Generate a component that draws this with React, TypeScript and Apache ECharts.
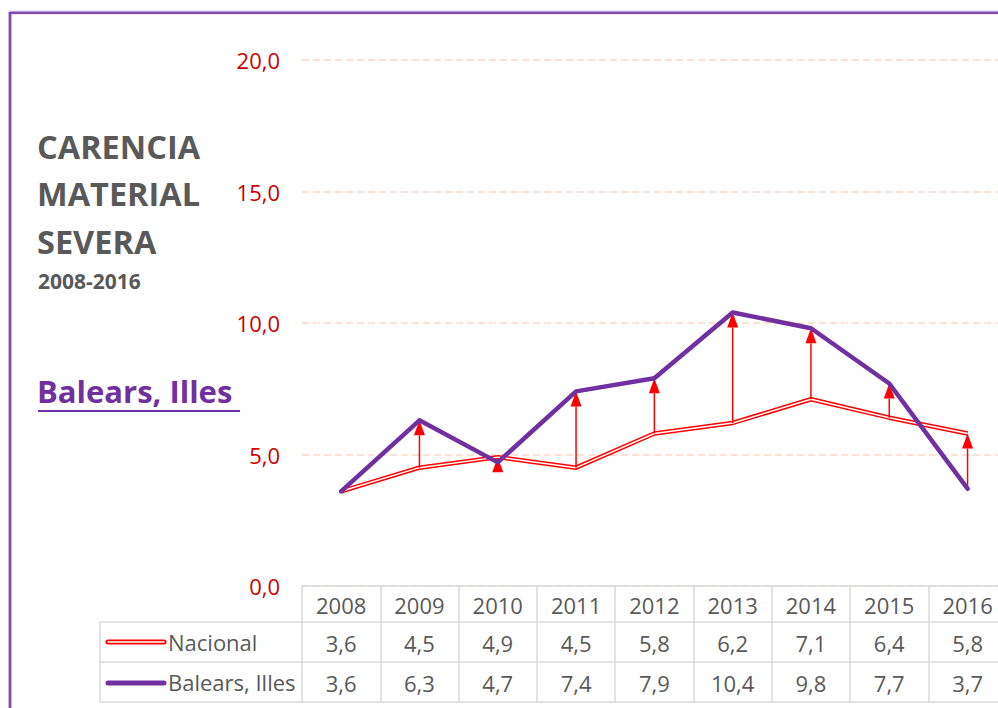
import React, { useEffect, useRef } from "react";
import * as echarts from "echarts";

const years = ["2008", "2009", "2010", "2011", "2012", "2013", "2014", "2015", "2016"];
const nacional = [3.6, 4.5, 4.9, 4.5, 5.8, 6.2, 7.1, 6.4, 5.8];
const balears = [3.6, 6.3, 4.7, 7.4, 7.9, 10.4, 9.8, 7.7, 3.7];
const yTicks = { min: 0, max: 20, interval: 5 };
const titleLines = ["CARENCIA", "MATERIAL", "SEVERA"];
const subtitle = "2008-2016";
const regionName = "Balears, Illes";
const seriesNames = ["Nacional", "Balears, Illes"];

const fmt = (v: number) => v.toFixed(1).replace(".", ",");

const FONT = "'Open Sans', 'Noto Sans', sans-serif";
const GRID_LEFT = 302;
const GRID_TOP = 60;
const GRID_H = 526;
const BAND = 78.3;
const GRID_W = BAND * years.length;
const CHART_W = 1012;
const TEXT = "#595959";
const TABLE_LINE = "#D9D9D9";
const PURPLE = "#7030A0";
const RED = "#FF0000";

export default function App() {
  const ref = useRef<HTMLDivElement>(null);
  useEffect(() => {
    if (!ref.current) return;
    const chart = echarts.init(ref.current, null, { renderer: "svg" });
    const rowLabelAxis = (margin: number, values: number[]) => ({
      type: "category",
      data: years,
      gridIndex: 0,
      position: "bottom",
      axisLine: { show: false },
      axisTick: { show: false },
      splitLine: { show: false },
      axisLabel: {
        margin,
        color: TEXT,
        fontSize: 22,
        lineHeight: 22,
        fontFamily: FONT,
        formatter: (_v: string, idx: number) => fmt(values[idx]),
      },
    });
    const graphics: any[] = [];
    // border
    graphics.push({ type: "line", shape: { x1: 10, y1: 12.5, x2: CHART_W, y2: 12.5 }, style: { stroke: "#B79AD6", lineWidth: 3.5 } });
    graphics.push({ type: "line", shape: { x1: 10, y1: 12, x2: 10, y2: 708 }, style: { stroke: "#B79AD6", lineWidth: 3.5 } });
    graphics.push({ type: "line", shape: { x1: 10, y1: 13, x2: CHART_W, y2: 13 }, style: { stroke: PURPLE, lineWidth: 1.5 } });
    graphics.push({ type: "line", shape: { x1: 10, y1: 12, x2: 10, y2: 708 }, style: { stroke: PURPLE, lineWidth: 1.5 } });
    // titles
    titleLines.forEach((t, i) => {
      graphics.push({
        type: "text",
        x: 37,
        y: 146 + i * 47.5,
        style: { text: t, fill: TEXT, font: `bold 32.5px ${FONT}`, textVerticalAlign: "middle" },
      });
    });
    graphics.push({
      type: "text",
      x: 38,
      y: 281,
      style: { text: subtitle, fill: TEXT, font: `bold 21px ${FONT}`, textVerticalAlign: "middle" },
    });
    graphics.push({
      type: "text",
      x: 37,
      y: 391,
      style: { text: regionName, fill: PURPLE, font: `bold 31px ${FONT}`, textVerticalAlign: "middle" },
    });
    graphics.push({ type: "line", shape: { x1: 38, y1: 411, x2: 240, y2: 411 }, style: { stroke: PURPLE, lineWidth: 2 } });
    // table lines
    [622, 662, 702].forEach((y) => {
      graphics.push({ type: "line", shape: { x1: 100, y1: y, x2: CHART_W, y2: y }, style: { stroke: TABLE_LINE, lineWidth: 1.5 } });
    });
    graphics.push({ type: "line", shape: { x1: 100, y1: 622, x2: 100, y2: 702 }, style: { stroke: TABLE_LINE, lineWidth: 1.5 } });
    // legend keys
    graphics.push({ type: "line", shape: { x1: 108, y1: 642, x2: 164, y2: 642 }, style: { stroke: RED, lineWidth: 5, lineCap: "round" } });
    graphics.push({ type: "line", shape: { x1: 108, y1: 642, x2: 164, y2: 642 }, style: { stroke: "#FFFFFF", lineWidth: 1.5, lineCap: "round" } });
    graphics.push({ type: "line", shape: { x1: 108, y1: 683, x2: 164, y2: 683 }, style: { stroke: PURPLE, lineWidth: 5, lineCap: "round" } });
    seriesNames.forEach((n, i) => {
      graphics.push({
        type: "text",
        x: 168,
        y: 642 + i * 40,
        style: { text: n, fill: TEXT, font: `22px ${FONT}`, textVerticalAlign: "middle" },
      });
    });

    chart.setOption({
      animation: false,
      grid: { left: GRID_LEFT, top: GRID_TOP, width: GRID_W, height: GRID_H, containLabel: false },
      xAxis: [
        {
          type: "category",
          data: years,
          gridIndex: 0,
          position: "bottom",
          axisLine: { show: true, lineStyle: { color: TABLE_LINE, width: 1.5 } },
          axisTick: { show: true, length: 116, lineStyle: { color: TABLE_LINE, width: 1.5 } },
          splitLine: { show: false },
          axisLabel: { margin: 8, color: TEXT, fontSize: 22, lineHeight: 22, fontFamily: FONT },
        },
        rowLabelAxis(46, nacional),
        rowLabelAxis(86, balears),
      ],
      yAxis: {
        type: "value",
        min: yTicks.min,
        max: yTicks.max,
        interval: yTicks.interval,
        axisLine: { show: false },
        axisTick: { show: false },
        axisLabel: {
          margin: 22,
          color: "#CC0000",
          fontSize: 22,
          fontFamily: FONT,
          formatter: (v: number) => fmt(v),
        },
        splitLine: { show: true, lineStyle: { color: "#FBE2D2", width: 2, type: [7, 4] } },
      },
      graphic: graphics,
      series: [
        {
          name: seriesNames[0],
          type: "line",
          data: nacional,
          showSymbol: false,
          silent: true,
          z: 2,
          lineStyle: { color: RED, width: 4.5, join: "round" },
        },
        {
          name: seriesNames[0] + " inner",
          type: "line",
          data: nacional,
          showSymbol: false,
          silent: true,
          z: 3,
          lineStyle: { color: "#FFFFFF", width: 1.5, join: "round" },
        },
        {
          name: "arrows",
          type: "custom",
          silent: true,
          z: 4,
          data: years.map((_, i) => [i, nacional[i], balears[i]]),
          encode: { x: 0, y: [1, 2] },
          renderItem: (_params: any, api: any) => {
            const i = api.value(0);
            const a = api.value(1);
            const b = api.value(2);
            if (a === b) return { type: "group", children: [] };
            const lo = Math.min(a, b);
            const hi = Math.max(a, b);
            const pLo = api.coord([i, lo]);
            const pHi = api.coord([i, hi]);
            const headH = 15;
            const headW = 5.5;
            const x = pHi[0];
            const children: any[] = [];
            const lineEnd = pHi[1] + headH;
            if (pLo[1] > lineEnd) {
              children.push({
                type: "line",
                shape: { x1: x, y1: pLo[1], x2: x, y2: lineEnd },
                style: { stroke: RED, lineWidth: 1.5 },
              });
            }
            children.push({
              type: "polygon",
              shape: { points: [[x, pHi[1]], [x - headW, pHi[1] + headH], [x + headW, pHi[1] + headH]] },
              style: { fill: RED },
            });
            return { type: "group", children };
          },
        },
        {
          name: seriesNames[1],
          type: "line",
          data: balears,
          showSymbol: false,
          silent: true,
          z: 5,
          lineStyle: { color: PURPLE, width: 4.5, cap: "round", join: "round" },
        },
      ],
    });
    return () => chart.dispose();
  }, []);
  return (
    <div
      style={{ position: "fixed", left: 0, top: 0, width: 998, height: 708, overflow: "hidden", background: "#FFFFFF" }}
    >
      <div ref={ref} style={{ width: CHART_W, height: 708 }} />
    </div>
  );
}
